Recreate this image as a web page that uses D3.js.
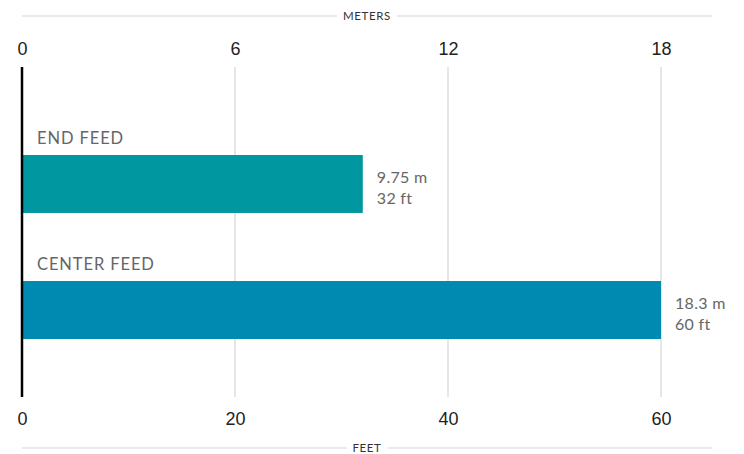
<!DOCTYPE html>
<meta charset="utf-8">
<style>
body { margin: 0; background: #fff; font-family: Lato, "Open Sans", sans-serif; }
.grid line { stroke: #d6d6d6; stroke-width: 1.2; }
.tick-label { font-size: 18px; fill: #222; }
.unit-title { font-size: 11.5px; fill: #333; letter-spacing: 0.6px; }
.bar-label { font-size: 16.5px; fill: #666; letter-spacing: 0.9px; }
.value-label { font-size: 16px; fill: #666; letter-spacing: 0.3px; }
</style>
<body>
<svg width="744" height="454"></svg>
<script src="https://d3js.org/d3.v7.min.js"></script>
<script>
var categories = ["END FEED", "CENTER FEED"];
var feetValues = [32, 60];
var meterLabels = ["9.75 m", "18.3 m"];
var feetLabels = ["32 ft", "60 ft"];
var colors = ["#0097a0", "#0089b1"];
var meterTicks = [0, 6, 12, 18];
var feetTicks = [0, 20, 40, 60];

var svg = d3.select("svg");

var left = 22, right = 661;

// both axes share the same pixels (6 m drawn as 20 ft)
var xFeet = d3.scaleLinear().domain([0, 60]).range([left, right]);
var xMeters = d3.scaleLinear().domain([0, 18]).range([left, right]);

var y = d3.scaleBand()
    .domain(categories)
    .range([155, 339])
    .paddingInner(0.54)
    .paddingOuter(0);

var plotTop = 67, plotBottom = 397;

// grid
svg.append("g").attr("class", "grid")
  .selectAll("line")
  .data(feetTicks.slice(1))
  .enter().append("line")
    .attr("x1", function(d) { return xFeet(d); })
    .attr("x2", function(d) { return xFeet(d); })
    .attr("y1", plotTop)
    .attr("y2", plotBottom);

// bars
svg.append("g")
  .selectAll("rect")
  .data(categories)
  .enter().append("rect")
    .attr("x", xFeet(0))
    .attr("y", function(d) { return y(d); })
    .attr("width", function(d, i) { return xFeet(feetValues[i]) - xFeet(0); })
    .attr("height", y.bandwidth())
    .attr("fill", function(d, i) { return colors[i]; });

// category labels
svg.append("g")
  .selectAll("text")
  .data(categories)
  .enter().append("text")
    .attr("class", "bar-label")
    .attr("x", left + 15)
    .attr("y", function(d) { return y(d) - 11; })
    .text(function(d) { return d; });

// value labels
var vals = svg.append("g")
  .selectAll("text")
  .data(categories)
  .enter().append("text")
    .attr("class", "value-label")
    .attr("x", function(d, i) { return xFeet(feetValues[i]) + 14; })
    .attr("y", function(d) { return y(d) + y.bandwidth() / 2 - 1; });
vals.append("tspan").text(function(d, i) { return meterLabels[i]; });
vals.append("tspan")
    .attr("x", function(d, i) { return xFeet(feetValues[i]) + 14; })
    .attr("dy", 21)
    .text(function(d, i) { return feetLabels[i]; });

// zero line
svg.append("line")
    .attr("x1", xFeet(0)).attr("x2", xFeet(0))
    .attr("y1", plotTop).attr("y2", plotBottom)
    .attr("stroke", "#000").attr("stroke-width", 2.5);

// top axis (meters)
var topAxis = d3.axisTop(xMeters).tickValues(meterTicks).tickSize(0).tickPadding(0);
var gTop = svg.append("g").attr("transform", "translate(0,55)").call(topAxis);
gTop.select(".domain").remove();
gTop.selectAll("text").attr("class", "tick-label").attr("font-family", null).attr("font-size", null);

// bottom axis (feet)
var bottomAxis = d3.axisBottom(xFeet).tickValues(feetTicks).tickSize(0).tickPadding(0);
var gBot = svg.append("g").attr("transform", "translate(0,412)").call(bottomAxis);
gBot.select(".domain").remove();
gBot.selectAll("text").attr("class", "tick-label").attr("font-family", null).attr("font-size", null);

// unit titles with rules on each side
function unitTitle(label, yPos) {
  var cx = 367;
  var t = svg.append("text")
      .attr("class", "unit-title")
      .attr("x", cx).attr("y", yPos + 4)
      .attr("text-anchor", "middle")
      .text(label);
  var w = t.node().getComputedTextLength();
  svg.append("line").attr("x1", left).attr("x2", cx - w / 2 - 6)
      .attr("y1", yPos).attr("y2", yPos).attr("stroke", "#d6d6d6").attr("stroke-width", 1.2);
  svg.append("line").attr("x1", cx + w / 2 + 6).attr("x2", 712)
      .attr("y1", yPos).attr("y2", yPos).attr("stroke", "#d6d6d6").attr("stroke-width", 1.2);
}
unitTitle("METERS", 16);
unitTitle("FEET", 448);
</script>
</body>
